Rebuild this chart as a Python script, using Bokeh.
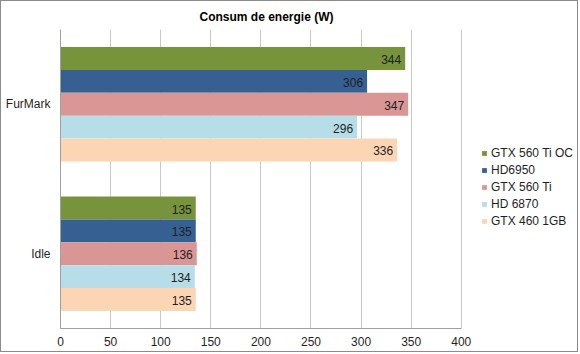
from bokeh.plotting import figure
from bokeh.models import ColumnDataSource, FactorRange, Range1d, Legend, LegendItem, FixedTicker
from bokeh.transform import dodge
from bokeh.core.properties import value
from bokeh.embed import file_html
from bokeh.resources import INLINE

categories = ["Idle", "FurMark"]
series_names = ["GTX 560 Ti OC", "HD6950", "GTX 560 Ti", "HD 6870", "GTX 460 1GB"]
gtx560ti_oc = [135, 344]
hd6950 = [135, 306]
gtx560ti = [136, 347]
hd6870 = [134, 296]
gtx460 = [135, 336]
colors = ["#77933C", "#376092", "#D99694", "#B7DEE8", "#FCD5B5"]
x_ticks = [0, 50, 100, 150, 200, 250, 300, 350, 400]

series_values = [gtx560ti_oc, hd6950, gtx560ti, hd6870, gtx460]
data = {"cats": categories}
for i, vals in enumerate(series_values):
    data[f"s{i}"] = vals
    data[f"t{i}"] = [str(v) for v in vals]
source = ColumnDataSource(data)

FONT = "Liberation Sans"

# frame spans to the right edge so the legend (drawn inside it) is not clipped;
# the axis itself is bounded at 0..400
p = figure(width=578, height=352, y_range=FactorRange(*categories), x_range=Range1d(0, 518),
           output_backend="svg", toolbar_location=None,
           min_border_left=59, min_border_right=0, min_border_top=26, min_border_bottom=25)
p.styles = {"border": "1px solid #8c8c8c"}
p.title.text = "Consum de energie (W)"
p.title.align = "left"
p.title.offset = 139
p.title.standoff = 12
p.title.text_font = FONT
p.title.text_font_size = "12px"
p.title.text_font_style = "bold"
p.title.text_color = "#000000"

bar_h = 0.153
renderers = []
for i, name in enumerate(series_names):
    off = (2 - i) * bar_h
    r = p.hbar(y=dodge("cats", off, range=p.y_range), right=f"s{i}", left=0, height=bar_h,
               source=source, fill_color=colors[i], line_color=None)
    renderers.append(r)
    p.text(x=f"s{i}", y=dodge("cats", off, range=p.y_range), text=f"t{i}", source=source,
           text_align="right", text_baseline="middle", x_offset=-4, y_offset=1,
           text_font=value(FONT), text_font_size="12px", text_color="#1f1f1f")

legend = Legend(items=[LegendItem(label=n, renderers=[r]) for n, r in zip(series_names, renderers)],
                location=(421, 100), label_text_font=FONT, label_text_font_size="12px",
                label_text_color="#1f1f1f", glyph_width=6, glyph_height=6, label_height=15,
                spacing=2, padding=0, margin=0, border_line_color=None, label_standoff=4,
                background_fill_alpha=0)
p.add_layout(legend)

p.xaxis.ticker = FixedTicker(ticks=x_ticks)
p.xaxis.bounds = (0, 400)
p.xgrid.grid_line_color = "#c8c8c8"
p.ygrid.grid_line_color = None
p.outline_line_color = None
for ax in (p.xaxis, p.yaxis):
    ax.axis_line_color = "#a0a0a0"
    ax.major_tick_line_color = None
    ax.minor_tick_line_color = None
    ax.major_tick_out = 0
    ax.major_tick_in = 0
    ax.minor_tick_out = 0
    ax.minor_tick_in = 0
    ax.major_label_text_font = FONT
    ax.major_label_text_font_size = "12px"
    ax.major_label_text_color = "#1f1f1f"
p.xaxis.major_label_standoff = 8
p.yaxis.major_label_standoff = 10

open("out.html", "w").write(file_html(p, INLINE))
